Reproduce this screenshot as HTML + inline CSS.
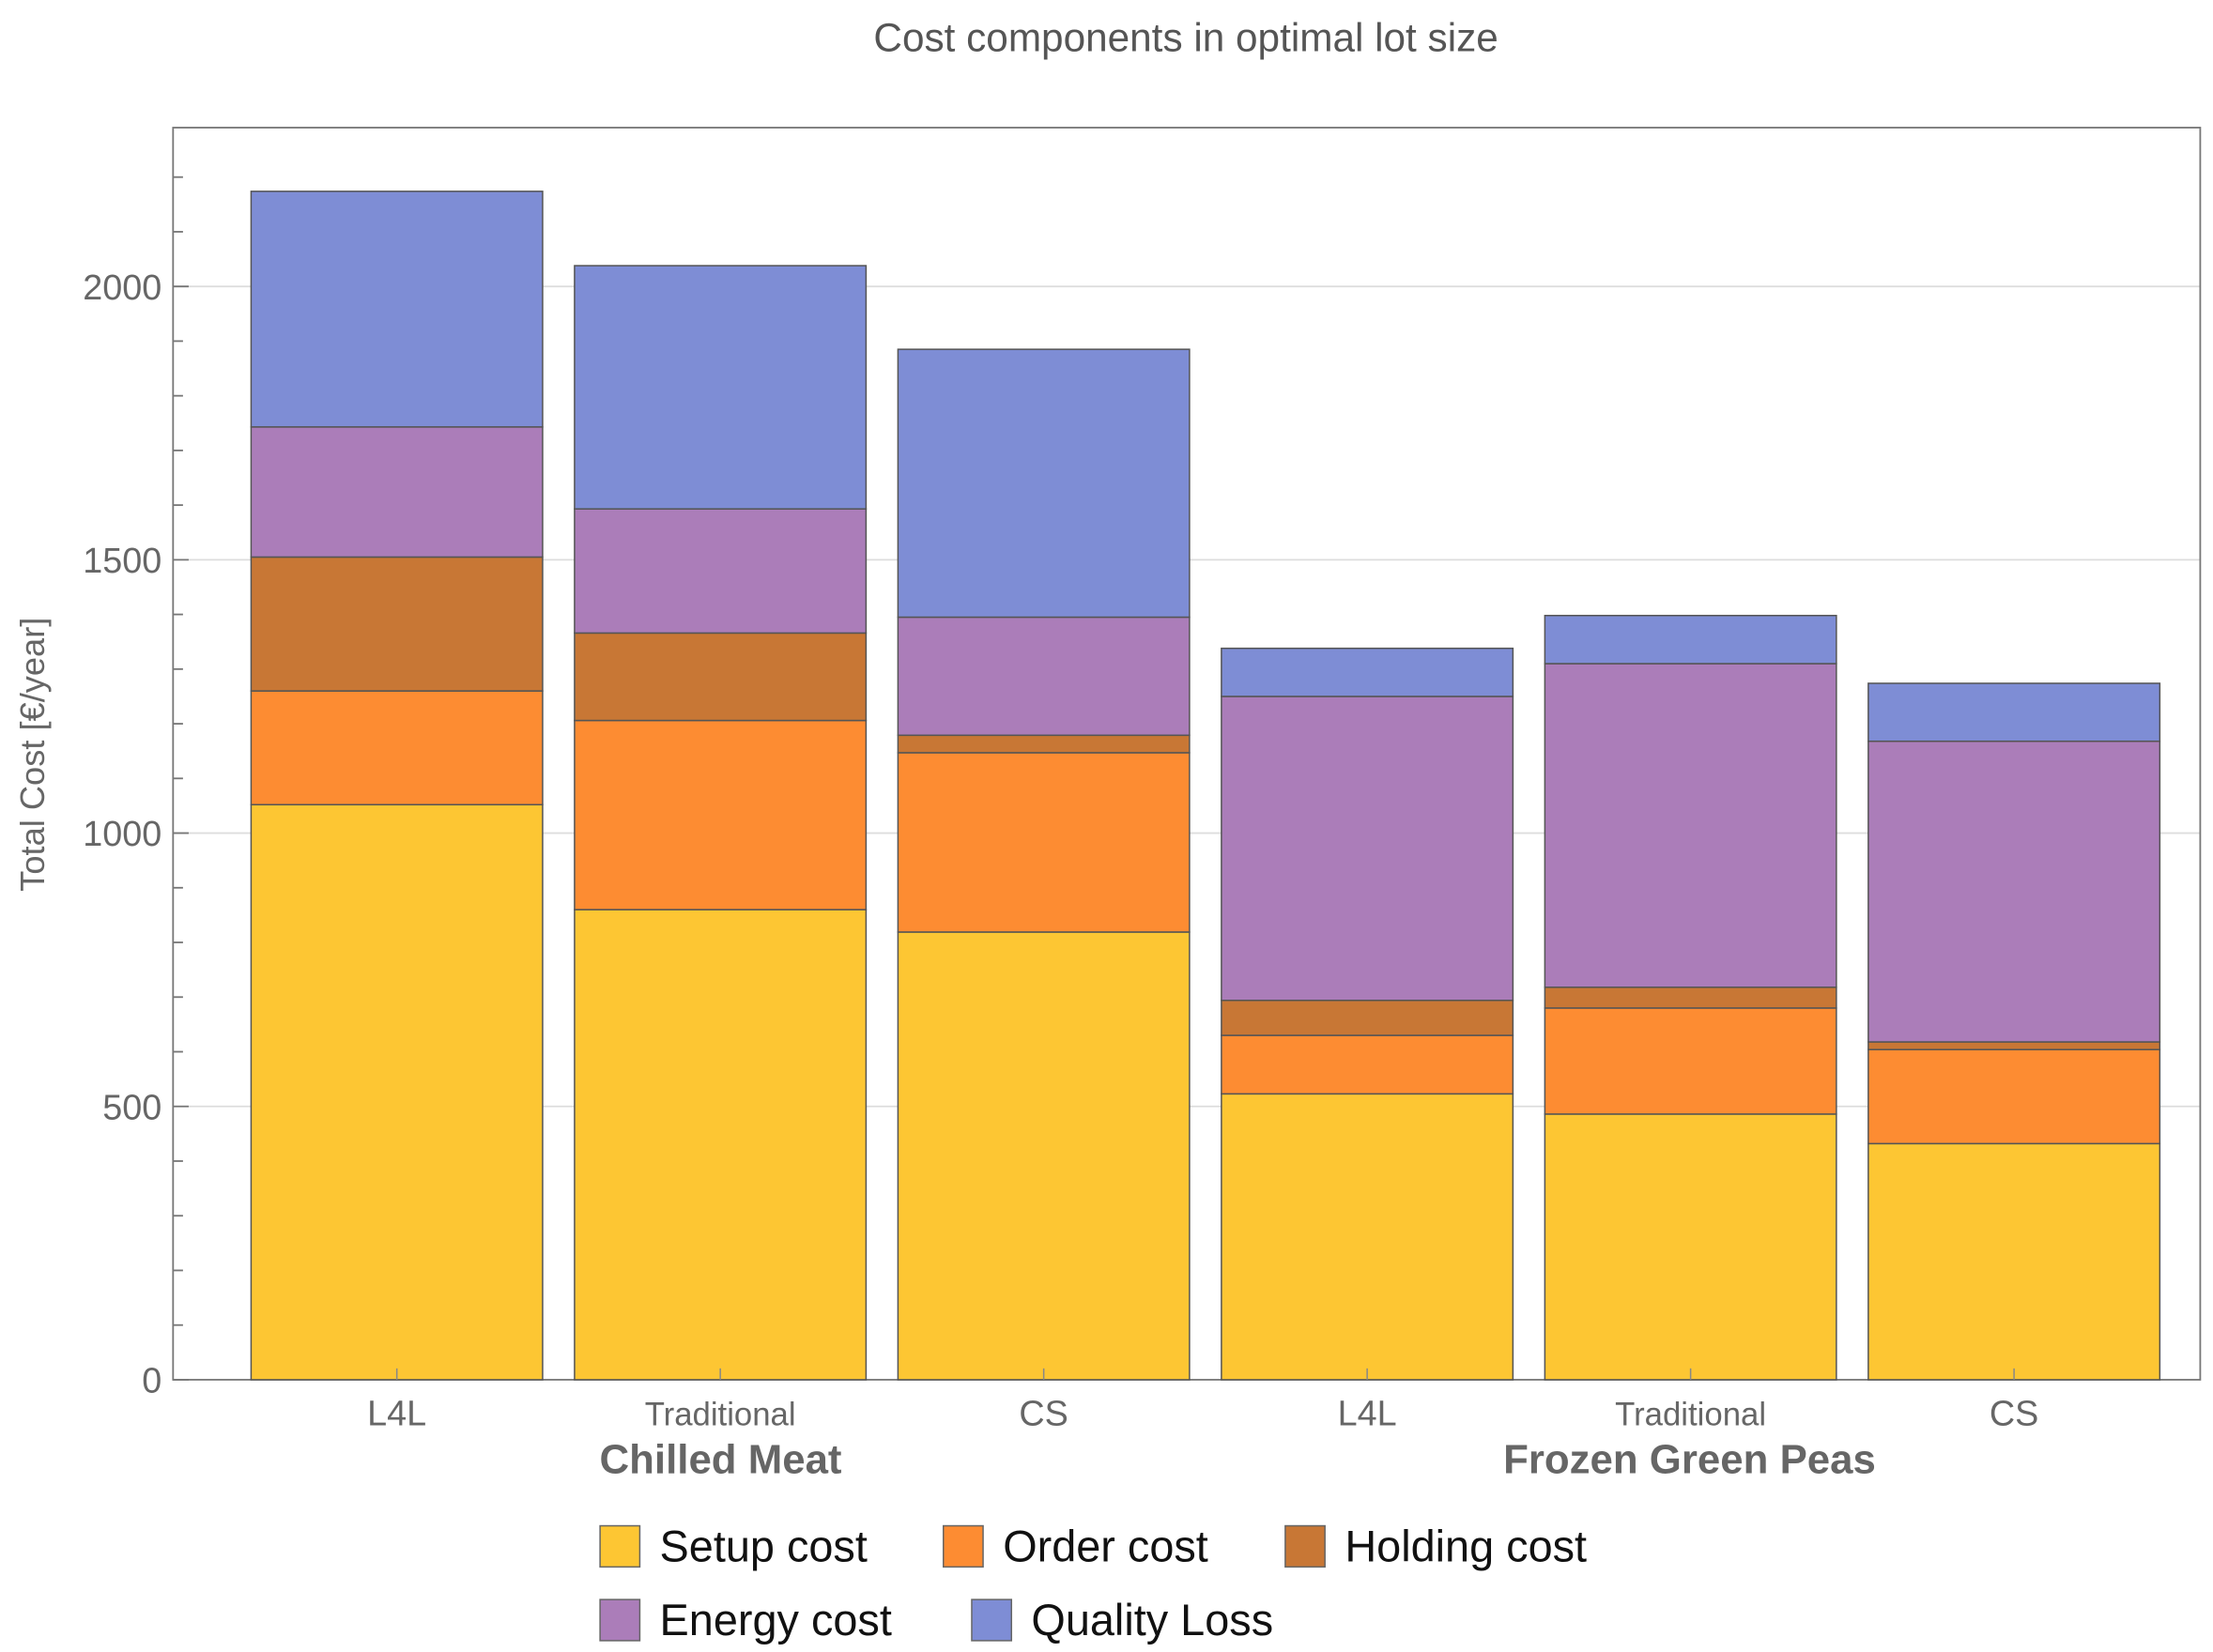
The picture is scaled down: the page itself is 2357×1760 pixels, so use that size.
<!DOCTYPE html>
<html><head><meta charset="utf-8"><style>
html,body{margin:0;padding:0;background:#fff}
svg{display:block}
text{font-family:"Liberation Sans",sans-serif}
</style></head><body>
<svg id="chart" width="2357" height="1760" viewBox="0 0 1560 1165" preserveAspectRatio="none" xmlns="http://www.w3.org/2000/svg">
<rect x="0" y="0" width="1560" height="1165" fill="#fff"/>
<text x="836" y="36" text-anchor="middle" font-size="28" fill="#555">Cost components in optimal lot size</text>
<g id="grid"></g>
<rect x="122" y="90" width="1429" height="883" fill="none" stroke="#777" stroke-width="1.2"/>
<g id="bars"></g>
<g id="axes"></g>
<text transform="translate(31,532) rotate(-90)" text-anchor="middle" font-size="24" fill="#666">Total Cost [€/year]</text>
<text x="508" y="1039" text-anchor="middle" font-size="29" font-weight="bold" fill="#666">Chilled Meat</text>
<text x="1191" y="1039" text-anchor="middle" font-size="29" font-weight="bold" fill="#666">Frozen Green Peas</text>
<g id="legend"></g>
</svg>
<script>
const categories = ["L4L","Traditional","CS","L4L","Traditional","CS"];
const setupCost = [1052, 860, 819, 523, 486, 432];
const orderCost = [208, 346, 328, 107, 194, 172];
const holdingCost = [245, 160, 32, 64, 38, 14];
const energyCost = [238, 227, 216, 556, 592, 550];
const qualityLoss = [431, 445, 490, 88, 88, 106];
const yTicks = [0, 500, 1000, 1500, 2000];
const seriesNames = ["Setup cost","Order cost","Holding cost","Energy cost","Quality Loss"];
const seriesColors = ["#fdc633","#fd8c32","#c87735","#ab7db9","#7e8dd5"];
const series = [setupCost, orderCost, holdingCost, energyCost, qualityLoss];

const NS = "http://www.w3.org/2000/svg";
const y0 = 973, pxPerUnit = 771/2000;
const yScale = v => y0 - v*pxPerUnit;
const barStart = 177, barStep = 228, barW = 205.5;
const xScale = i => barStart + i*barStep;
function mk(tag, attrs, parent){const e=document.createElementNS(NS,tag);for(const k in attrs)e.setAttribute(k,attrs[k]);parent.appendChild(e);return e;}

const grid = document.getElementById('grid');
yTicks.forEach(t=>{ if(t>0){const l=mk('line',{x1:122,x2:1551,y1:yScale(t),y2:yScale(t),stroke:'#ddd','stroke-width':1.2},grid);

}});

const bars = document.getElementById('bars');
categories.forEach((c,i)=>{
  let cum=0;
  series.forEach((s,k)=>{
    const v=s[i];
    const r=mk('rect',{x:xScale(i),y:yScale(cum+v),width:barW,height:v*pxPerUnit,fill:seriesColors[k],stroke:'#555','stroke-width':1},bars);
    
    
    cum+=v;
  });
  const tk=mk('line',{x1:xScale(i)+barW/2,x2:xScale(i)+barW/2,y1:y0,y2:y0-8,stroke:'#888','stroke-width':1},bars);
  
  
  const t=mk('text',{x:xScale(i)+barW/2,y:1005,'text-anchor':'middle','font-size':c==='Traditional'?23:25,fill:'#666'},bars);
  t.textContent=c;
  
  
});

const axes = document.getElementById('axes');
for(let v=0; v<=2250; v+=100){
  const major = v%500===0;
  const l=mk('line',{x1:122,x2:122+(major?11:7),y1:yScale(v),y2:yScale(v),stroke:'#777','stroke-width':1.2},axes);
  
  
}
yTicks.forEach(t=>{
  const tx=mk('text',{x:114,y:yScale(t)+9,'text-anchor':'end','font-size':25,fill:'#666'},axes);
  tx.textContent=String(t);
  
  
});

const legend = document.getElementById('legend');
const legPos = [[423,1090],[665,1090],[906,1090],[423,1142],[685,1142]];
seriesNames.forEach((n,k)=>{
  const [x,y]=legPos[k];
  const sq=mk('rect',{x:x,y:y-14,width:28,height:29,fill:seriesColors[k],stroke:'#666','stroke-width':1},legend);
  
  
  const t=mk('text',{x:x+42,y:y+11,'font-size':31,fill:'#111'},legend);
  t.textContent=n;
  
  
});
</script>
</body></html>
